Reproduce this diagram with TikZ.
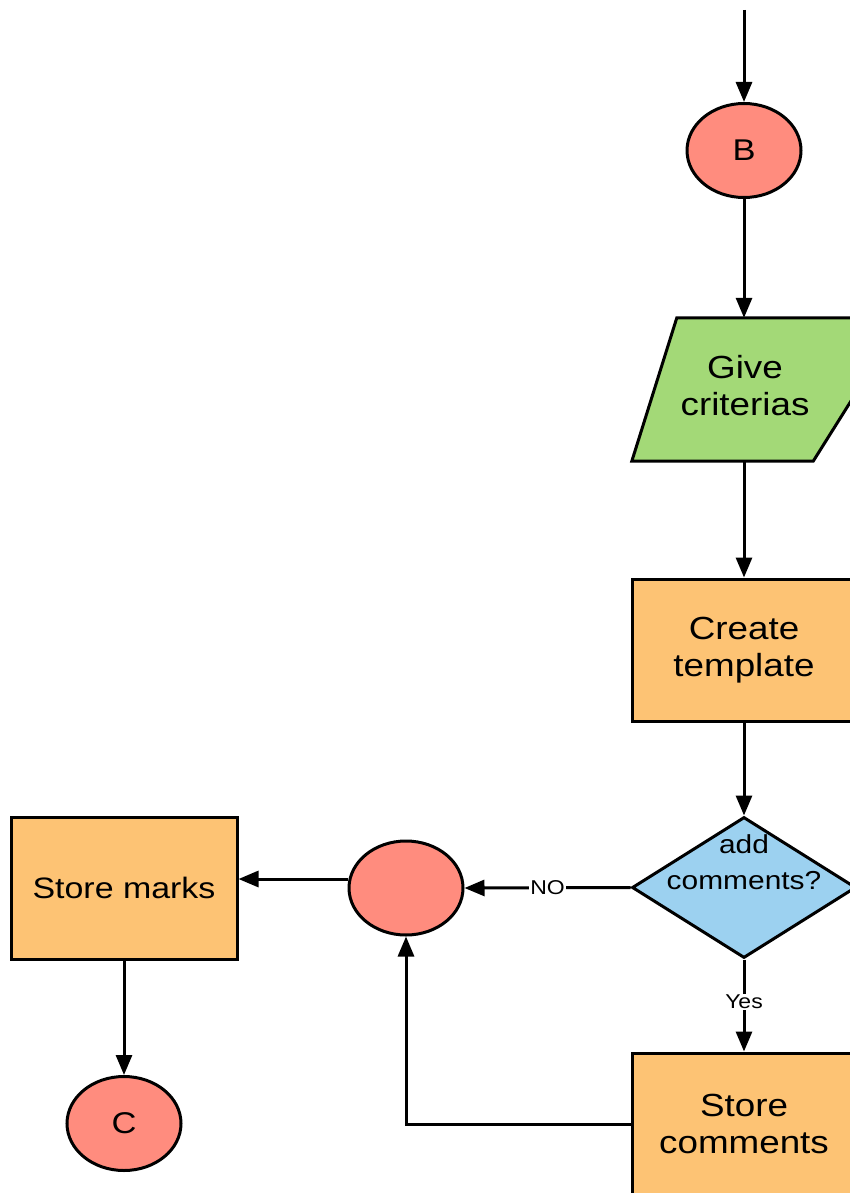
\documentclass[tikz,border=0pt]{standalone}
\usepackage{fontspec}
\setmainfont[FakeStretch=1.15]{Liberation Sans}
\usetikzlibrary{arrows.meta,shapes.geometric,backgrounds}

\definecolor{salmon}{HTML}{FF8C7E}
\definecolor{leaf}{HTML}{A3D977}
\definecolor{apricot}{HTML}{FDC374}
\definecolor{sky}{HTML}{9CD1F0}

\tikzset{
  frame/.style={draw=black, line width=3pt},
  arrowline/.style={draw=black, line width=3pt, -{Triangle[length=20pt,width=16pt]}},
  bigtext/.style={font=\fontsize{32}{37}\selectfont, align=center},
  oval/.style={frame, ellipse, fill=salmon, minimum width=114pt, minimum height=94pt, inner sep=0pt, font=\fontsize{30}{36}\selectfont},
  procbox/.style={frame, rectangle, fill=apricot, minimum width=224pt, minimum height=142pt, inner sep=0pt, bigtext},
  decision/.style={frame, diamond, fill=sky, minimum width=224pt, minimum height=141pt, inner sep=0pt},
  edgelabel/.style={fill=white, inner sep=1pt, font=\fontsize{20}{24}\selectfont}
}

\begin{document}
\begin{tikzpicture}[x=1pt, y=-1pt]
  \useasboundingbox (0,0) rectangle (850,1193);
  \clip (0,0) rectangle (850,1193);

  % incoming flow
  \coordinate (entry) at (744,10);
  \node[oval] (B) at (744,150.5) {B};

  % input step (parallelogram drawn behind its text)
  \node[minimum width=226pt, minimum height=143pt, inner sep=0pt] (give) at (745,389.5) {};
  \node[bigtext] (givetext) at (745,386) {Give\\criterias};
  \begin{scope}[on background layer]
    \draw[frame, fill=leaf]
      ([xshift=45pt]give.north west) -- ([xshift=45pt]give.north east)
      -- ([xshift=-45pt]give.south east) -- (give.south west) -- cycle;
  \end{scope}

  \node[procbox] (tmpl) at (744,650) {Create\\template};

  % decision
  \node[decision] (dec) at (744,887.5) {};
  \node[font=\fontsize{26}{36}\selectfont, align=center] (dectext) at (744,862) {add\\comments?};

  \node[procbox] (scom) at (744,1124) {Store\\comments};

  \node[oval] (mid) at (406,888) {};
  \node[procbox, minimum width=226pt, font=\fontsize{29.5}{36}\selectfont] (marks) at (124,888) {Store marks};
  \node[oval] (C) at (124,1123.5) {C};

  % connectors
  \draw[arrowline] (entry) -- (B.north);
  \draw[arrowline] (B.south) -- (B.south |- give.north);
  \draw[arrowline] (tmpl.north |- give.south) -- (tmpl.north);
  \draw[arrowline] (tmpl.south) -- (dec.north);
  \draw[arrowline] (dec.west) -- node[edgelabel, pos=0.5] {NO} (mid.east);
  \draw[arrowline] (dec.south) -- node[edgelabel, pos=0.46] {Yes} (scom.north);
  \draw[arrowline] (scom.west) -- (mid.south |- scom.west) -- (mid.south);
  \draw[arrowline] ([yshift=9pt]mid.west) -- ([yshift=9pt]marks.east);
  \draw[arrowline] (marks.south) -- (C.north);
\end{tikzpicture}
\end{document}
